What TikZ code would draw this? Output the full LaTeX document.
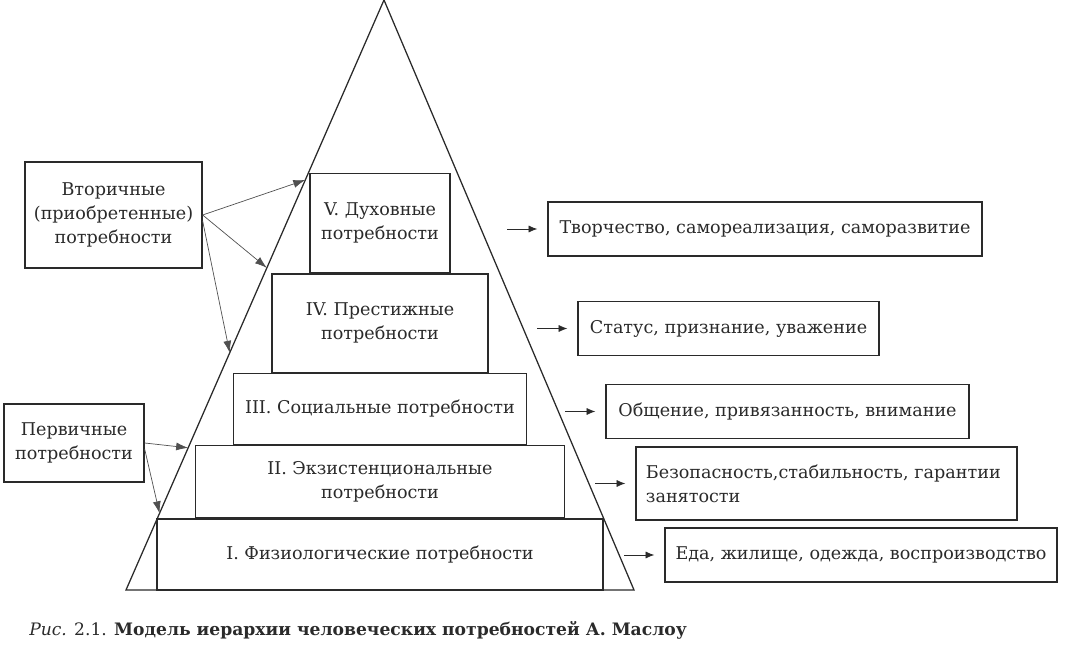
\documentclass[tikz,border=0pt]{standalone}
\usepackage{fontspec}
\setmainfont{DejaVu Serif}
\usetikzlibrary{positioning,calc,arrows.meta}

\definecolor{ink}{HTML}{2A2A2A}
\definecolor{arrgray}{HTML}{505050}

\tikzset{
    txt/.style={font=\fontsize{12.5}{17}\selectfont, text=ink},
    levelbox/.style={txt, draw=ink, line width=0.9pt, inner sep=0pt, align=center},
    needbox/.style={txt, draw=ink, line width=0.9pt, inner sep=0pt, minimum height=1.35cm},
    groupbox/.style={txt, draw=ink, line width=0.9pt, inner sep=0pt, align=center},
    arr/.style={draw=arrgray, line width=0.5pt, -{Latex[length=3mm,width=2mm]}},
    shortarr/.style={draw=ink, line width=0.6pt, -{Latex[length=2.2mm,width=1.8mm]}}
}

\begin{document}
\begin{tikzpicture}[x=0.025cm, y=-0.025cm]
    \useasboundingbox (0,0) rectangle (1067,655);

    % pyramid
    \coordinate (apex) at (384,0);
    \coordinate (bl) at (126,590);
    \coordinate (br) at (634,590);
    \draw[ink, line width=0.9pt] (bl) -- (apex) -- (br) -- cycle;

    % levels, stacked from the base
    \node[levelbox, minimum width=11.15cm, minimum height=1.775cm] (lvlI) at (380,554.5) {I. Физиологические потребности};
    \node[levelbox, minimum width=9.225cm, minimum height=1.8cm, above=0pt of lvlI] (lvlII) {II. Экзистенциональные\\потребности};
    \node[levelbox, minimum width=7.325cm, minimum height=1.775cm, above=0pt of lvlII] (lvlIII) {III. Социальные потребности};
    \node[levelbox, minimum width=5.4cm, minimum height=2.45cm, above=0pt of lvlIII] (lvlIV) {IV. Престижные\\потребности};
    \node[levelbox, minimum width=3.5cm, minimum height=2.475cm, above=0pt of lvlIV] (lvlV) {V. Духовные\\потребности};

    % what each level means
    \node[needbox, minimum width=10.85cm] (tvor) at (765,229) {Творчество, самореализация, саморазвитие};
    \node[needbox, minimum width=7.525cm] (status) at (728.5,328.5) {Статус, признание, уважение};
    \node[needbox, minimum width=9.075cm] (obsch) at (787.5,411.5) {Общение, привязанность, внимание};
    \node[needbox, minimum width=9.525cm, minimum height=1.825cm, align=left, text width=9.025cm] (bezop) at (826.5,483.5) {Безопасность,стабильность, гарантии\\занятости};
    \node[needbox, minimum width=9.8cm] (eda) at (861,555) {Еда, жилище, одежда, воспроизводство};

    \foreach \n in {tvor,status,obsch,bezop,eda}
        \draw[shortarr] ($(\n.west)+(-40,0)$) -- ($(\n.west)+(-10,0)$);

    % groups of needs
    \node[groupbox, minimum width=4.425cm, minimum height=2.65cm] (vtor) at (113.5,215) {Вторичные\\(приобретенные)\\потребности};
    \node[groupbox, minimum width=3.5cm, minimum height=1.95cm] (perv) at (74,443) {Первичные\\потребности};

    \coordinate (e1) at ($(bl)!0.695!(apex)$);
    \coordinate (e2) at ($(bl)!0.546!(apex)$);
    \coordinate (e3) at ($(bl)!0.402!(apex)$);
    \coordinate (e4) at ($(bl)!0.241!(apex)$);
    \coordinate (e5) at ($(bl)!0.13!(apex)$);
    \draw[arr] (vtor.east) -- (e1);
    \draw[arr] (vtor.east) -- (e2);
    \draw[arr] ([yshift=-0.15cm]vtor.east) -- (e3);
    \draw[arr] (perv.east) -- (e4);
    \draw[arr] ([yshift=-0.15cm]perv.east) -- (e5);

    % caption
    \node[txt, font=\fontsize{12.2}{15}\selectfont, anchor=base west, inner sep=0pt] (caption) at (29,635) {\textit{Рис.} 2.1. \textbf{Модель иерархии человеческих потребностей А.~Маслоу}};
\end{tikzpicture}
\end{document}
